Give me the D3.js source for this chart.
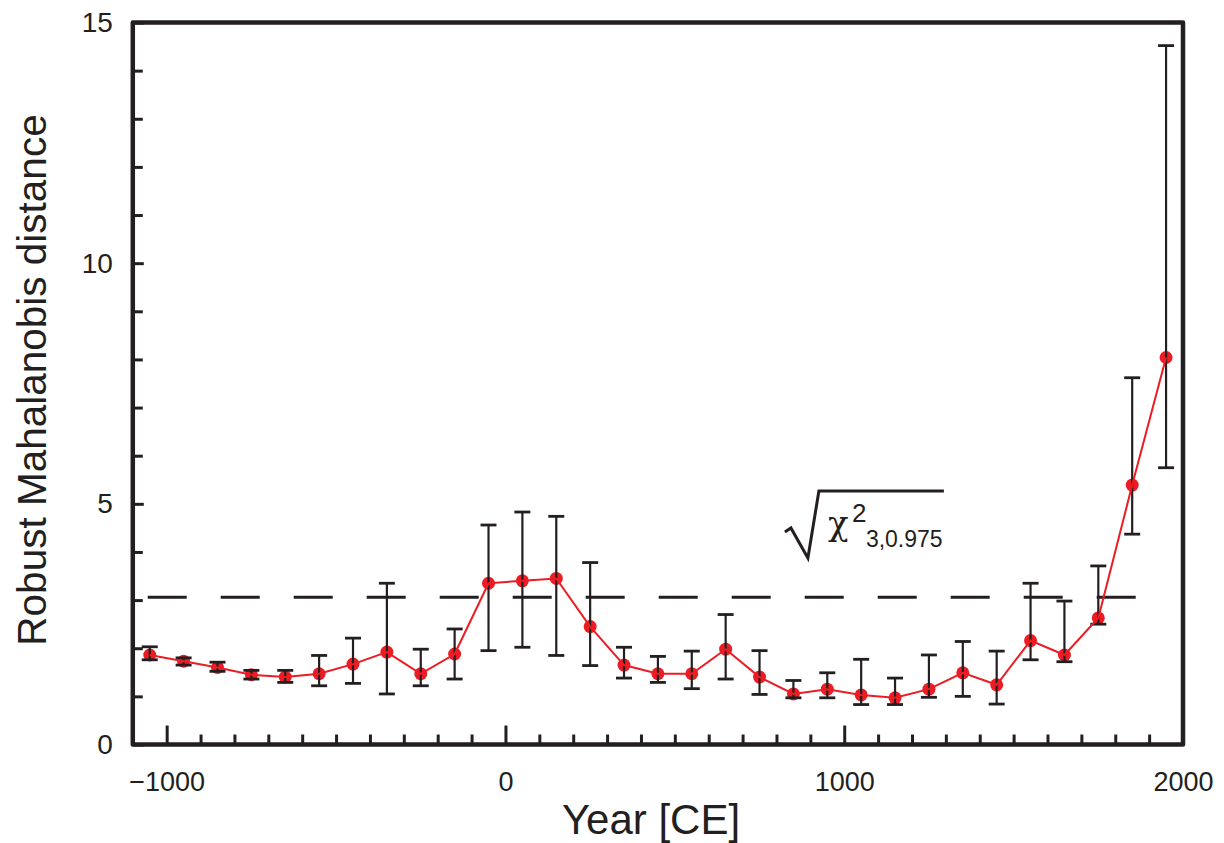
<!DOCTYPE html>
<html>
<head>
<meta charset="utf-8">
<script src="https://cdn.jsdelivr.net/npm/d3@7"></script>
<style>
  body { margin: 0; background: #fff; }
  text { font-family: "Liberation Sans", Arial, sans-serif; fill: #231f20; }
</style>
</head>
<body>
<svg id="chart"></svg>
<script>
// centre year of each 100-year window
const years = [-1050, -950, -850, -750, -650, -550, -450, -350, -250, -150, -50,
  50, 150, 250, 350, 450, 550, 650, 750, 850, 950, 1050, 1150, 1250, 1350, 1450,
  1550, 1650, 1750, 1850, 1950];
const distance = [1.86, 1.73, 1.60, 1.45, 1.40, 1.47, 1.67, 1.92, 1.47, 1.88, 3.35,
  3.40, 3.45, 2.45, 1.65, 1.47, 1.47, 1.98, 1.40, 1.05, 1.15, 1.03, 0.97, 1.15, 1.49, 1.24,
  2.16, 1.86, 2.63, 5.39, 8.04];
const errHigh = [2.03, 1.80, 1.71, 1.54, 1.54, 1.85, 2.21, 3.35, 1.98, 2.40, 4.56,
  4.83, 4.74, 3.78, 2.02, 1.83, 1.94, 2.70, 1.95, 1.33, 1.49, 1.77, 1.38, 1.86, 2.14, 1.94,
  3.35, 2.98, 3.71, 7.62, 14.52];
const errLow = [1.76, 1.65, 1.52, 1.36, 1.29, 1.22, 1.27, 1.05, 1.22, 1.36, 1.95,
  2.02, 1.85, 1.64, 1.38, 1.29, 1.16, 1.36, 1.04, 0.97, 0.97, 0.83, 0.83, 0.98, 1.00, 0.84,
  1.76, 1.72, 2.50, 4.37, 5.75];
const threshold = 3.06; // sqrt(chi2_{3,0.975})
const xMajor = [-1000, 0, 1000, 2000];
const xMinor = [-900, -800, -700, -600, -500, -400, -300, -200, -100, 100, 200, 300,
  400, 500, 600, 700, 800, 900, 1100, 1200, 1300, 1400, 1500, 1600, 1700, 1800, 1900];
const yMajor = [0, 5, 10, 15];
const yMinor = [1, 2, 3, 4, 6, 7, 8, 9, 11, 12, 13, 14];

const w = 1224;
const h = 843;
const ink = "#231f20";
const red = "#ed1c24";

const data = years.map((yr, i) => ({
  year: yr, value: distance[i], hi: errHigh[i], lo: errLow[i]
}));

const svg = d3.select("#chart").attr("width", w).attr("height", h);

const x = d3.scaleLinear().domain([-1100, 2000]).range([132.8, 1183]);
const y = d3.scaleLinear().domain([0, 15]).range([744.5, 22.5]);

// minor / major ticks, pointing inward
svg.append("g")
  .attr("transform", `translate(0, ${y(0)})`)
  .call(d3.axisBottom(x).tickValues(xMinor).tickSize(-10).tickFormat(""))
  .call((g) => g.select(".domain").remove())
  .call((g) => g.selectAll("line").attr("stroke", ink).attr("stroke-width", 3));

svg.append("g")
  .attr("transform", `translate(0, ${y(0)})`)
  .call(d3.axisBottom(x).tickValues(xMajor).tickSize(-19).tickPadding(27).tickFormat(d3.format("d")))
  .call((g) => g.select(".domain").remove())
  .call((g) => g.selectAll("line").attr("stroke", ink).attr("stroke-width", 3))
  .call((g) => g.selectAll("text").attr("font-size", 27).attr("font-family", null).style("fill", ink));

svg.append("g")
  .attr("transform", `translate(${x(-1100)}, 0)`)
  .call(d3.axisLeft(y).tickValues(yMinor).tickSize(-10).tickFormat(""))
  .call((g) => g.select(".domain").remove())
  .call((g) => g.selectAll("line").attr("stroke", ink).attr("stroke-width", 3));

svg.append("g")
  .attr("transform", `translate(${x(-1100)}, 0)`)
  .call(d3.axisLeft(y).tickValues(yMajor).tickSize(-11).tickPadding(20).tickFormat(d3.format("d")))
  .call((g) => g.select(".domain").remove())
  .call((g) => g.selectAll("line").attr("stroke", ink).attr("stroke-width", 3))
  .call((g) => g.selectAll("text").attr("font-size", 28).attr("font-family", null).style("fill", ink));

// frame
svg.append("rect")
  .attr("x", x(-1100))
  .attr("y", y(15))
  .attr("width", x(2000) - x(-1100))
  .attr("height", y(0) - y(15))
  .attr("fill", "none")
  .attr("stroke", ink)
  .attr("stroke-width", 4.5)
  .attr("stroke-linejoin", "round");

// threshold line
svg.append("line")
  .attr("x1", x(-1056))
  .attr("x2", x(1870))
  .attr("y1", y(threshold))
  .attr("y2", y(threshold))
  .attr("stroke", ink)
  .attr("stroke-width", 3)
  .attr("stroke-dasharray", "39 34");

// points
svg.selectAll(".dot")
  .data(data)
  .enter()
  .append("circle")
  .attr("class", "dot")
  .attr("cx", (d) => x(d.year))
  .attr("cy", (d) => y(d.value))
  .attr("r", 6.5)
  .attr("fill", red);

// error bars
const bars = svg.selectAll(".err")
  .data(data)
  .enter()
  .append("g")
  .attr("class", "err")
  .attr("stroke", ink)
  .attr("stroke-width", 2.2);

bars.append("line")
  .attr("x1", (d) => x(d.year))
  .attr("x2", (d) => x(d.year))
  .attr("y1", (d) => y(d.hi))
  .attr("y2", (d) => y(d.lo));

bars.append("line")
  .attr("x1", (d) => x(d.year) - 8)
  .attr("x2", (d) => x(d.year) + 8)
  .attr("y1", (d) => y(d.hi))
  .attr("y2", (d) => y(d.hi))
  .attr("stroke-width", 2.8);

bars.append("line")
  .attr("x1", (d) => x(d.year) - 8)
  .attr("x2", (d) => x(d.year) + 8)
  .attr("y1", (d) => y(d.lo))
  .attr("y2", (d) => y(d.lo))
  .attr("stroke-width", 2.8);

// connecting line
svg.append("path")
  .datum(data)
  .attr("fill", "none")
  .attr("stroke", red)
  .attr("stroke-width", 2)
  .attr("d", d3.line().x((d) => x(d.year)).y((d) => y(d.value)));

// sqrt(chi^2_{3,0.975}) label
const lx = x(940);
const ly = y(4.29);
const label = svg.append("g").attr("transform", `translate(${lx}, ${ly})`);
label.append("path")
  .attr("d", "M-39,-6 L-33,-10 L-16,20 L-5,-47 L120,-47")
  .attr("fill", "none")
  .attr("stroke", ink)
  .attr("stroke-width", 3)
  .attr("stroke-linejoin", "miter");
label.append("text")
  .attr("x", 4)
  .attr("y", -3)
  .attr("font-size", 34)
  .style("font-family", "'DejaVu Serif', serif")
  .text("χ");
label.append("text")
  .attr("x", 28)
  .attr("y", -16)
  .attr("font-size", 26)
  .text("2");
label.append("text")
  .attr("x", 42)
  .attr("y", 9)
  .attr("font-size", 23)
  .text("3,0.975");

// axis titles
svg.append("text")
  .attr("x", 651)
  .attr("y", 834)
  .attr("text-anchor", "middle")
  .attr("font-size", 42)
  .text("Year [CE]");

svg.append("text")
  .attr("transform", `translate(46, 380) rotate(-90)`)
  .attr("text-anchor", "middle")
  .attr("font-size", 40.5)
  .text("Robust Mahalanobis distance");
</script>
</body>
</html>
